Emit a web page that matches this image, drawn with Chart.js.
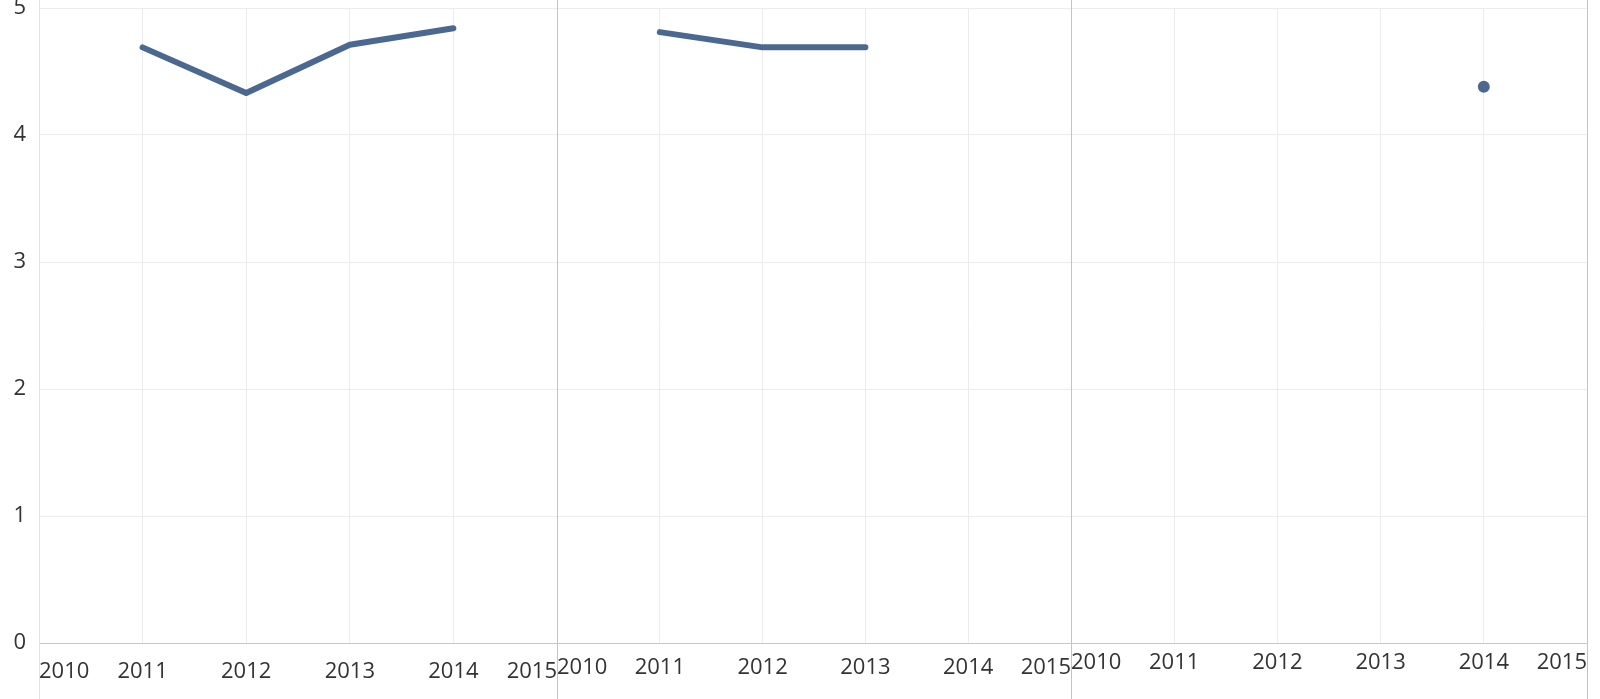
<!DOCTYPE html>
<html>
<head>
<meta charset="utf-8">
<script src="https://cdn.jsdelivr.net/npm/chart.js@4.4.1/dist/chart.umd.min.js"></script>
<style>
    html, body { margin: 0; padding: 0; background: #fff; }
    #wrap { position: relative; width: 1600px; height: 699px; overflow: hidden; }
    .panel { position: absolute; top: 0; height: 699px; }
    .divider { position: absolute; top: 0; width: 1px; height: 699px; background: #c4c4c4; }
</style>
</head>
<body>
<div id="wrap">
    <div class="panel" style="left:0;width:557px"><canvas id="c1"></canvas></div>
    <div class="panel" style="left:557px;width:514px"><canvas id="c2"></canvas></div>
    <div class="panel" style="left:1071px;width:516px"><canvas id="c3"></canvas></div>
    <div class="divider" style="left:39px;background:#e2e2e2"></div>
    <div class="divider" style="left:557px"></div>
    <div class="divider" style="left:1071px"></div>
    <div class="divider" style="left:1587px"></div>
</div>
<script>
// Années (axe x de chaque panneau)
const years = ['2010', '2011', '2012', '2013', '2014', '2015'];
// Valeurs des trois panneaux
const panel1Values = [null, 4.69, 4.33, 4.71, 4.84, null];
const panel2Values = [null, 4.81, 4.69, 4.69, null, null];
const panel3Values = [null, null, null, null, 4.38, null];
const yTicks = [0, 1, 2, 3, 4, 5];

const lineColor = '#4b6891';
const fontFamily = '"Open Sans", sans-serif';

function makePanel(id, values, showY, labelPad, pointRadius) {
    const ctx = document.getElementById(id).getContext('2d');
    return new Chart(ctx, {
        type: 'line',
        data: {
            labels: years,
            datasets: [{
                data: values,
                borderColor: lineColor,
                backgroundColor: lineColor,
                borderWidth: 6,
                borderCapStyle: 'round',
                borderJoinStyle: 'round',
                pointRadius: pointRadius,
                pointBorderWidth: 0,
                spanGaps: false,
                tension: 0
            }]
        },
        options: {
            responsive: true,
            maintainAspectRatio: false,
            animation: false,
            layout: { autoPadding: false, padding: { top: 8, left: 0, right: 0, bottom: 0 } },
            plugins: { legend: { display: false }, tooltip: { enabled: false } },
            scales: {
                x: {
                    type: 'category',
                    offset: false,
                    border: { display: true, color: '#c8c8c8', width: 1 },
                    grid: {
                        drawTicks: false,
                        color: (c) => (c.index === 0 || c.index === years.length - 1) ? 'rgba(0,0,0,0)' : '#ececec'
                    },
                    ticks: {
                        align: 'inner',
                        autoSkip: false,
                        maxRotation: 0,
                        padding: labelPad,
                        color: '#333',
                        font: { family: fontFamily, size: 22 }
                    },
                    afterFit: (scale) => {
                        scale.height = 56;
                        scale.paddingLeft = 0;
                        scale.paddingRight = 0;
                    }
                },
                y: {
                    display: true,
                    min: 0,
                    max: 5,
                    border: { display: false },
                    grid: { drawTicks: false, color: '#ececec' },
                    afterBuildTicks: (scale) => { scale.ticks = yTicks.map(v => ({ value: v })); },
                    ticks: {
                        display: showY,
                        padding: 13,
                        color: '#333',
                        font: { family: fontFamily, size: 22 }
                    },
                    afterFit: (scale) => {
                        scale.width = showY ? 39 : 0;
                        scale.paddingTop = 0;
                        scale.paddingBottom = 0;
                    }
                }
            }
        }
    });
}

makePanel('c1', panel1Values, true, 16, 0);
makePanel('c2', panel2Values, false, 12, 0);
makePanel('c3', panel3Values, false, 7, 6);
</script>
</body>
</html>
